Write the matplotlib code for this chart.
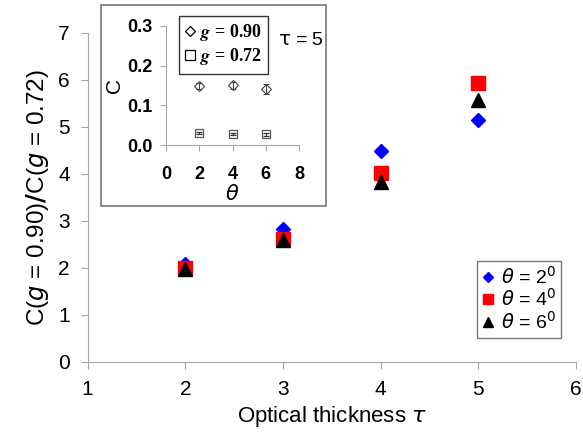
import matplotlib
matplotlib.use('Agg')
import matplotlib.pyplot as plt
from matplotlib.patches import Rectangle
from matplotlib.lines import Line2D
from matplotlib.font_manager import FontProperties

plt.rcParams['font.family'] = ['Liberation Sans', 'DejaVu Sans']

# main plot data: ratio C(g=0.90)/C(g=0.72) vs optical thickness
tau = [2, 3, 4, 5]
ratio_theta2 = [2.08, 2.83, 4.48, 5.14]
ratio_theta4 = [1.99, 2.61, 4.01, 5.94]
ratio_theta6 = [1.98, 2.59, 3.82, 5.56]

# inset data (tau = 5): C vs theta
theta = [2, 4, 6]
c_g090 = [0.149, 0.150, 0.141]
err_g090 = [0.008, 0.008, 0.012]
c_g072 = [0.030, 0.028, 0.027]
err_g072 = [0.003, 0.003, 0.003]

gray = '#a6a6a6'

fig = plt.figure(figsize=(5.83, 4.37), dpi=100)
ax = fig.add_axes([0.1504, 0.1723, 0.8371, 0.7529])

ax.plot(tau, ratio_theta2, 'D', color='#0000ff', ms=7.5, ls='none')
ax.plot(tau, ratio_theta4, 's', color='#ff0000', ms=10.5, ls='none')
ax.plot(tau, ratio_theta6, '^', color='black', ms=10.5, ls='none')

ax.set_xlim(1, 6)
ax.set_ylim(0, 7)
ax.set_xticks(range(1, 7))
ax.set_yticks(range(0, 8))
for s in ['top', 'right']:
    ax.spines[s].set_visible(False)
for s in ['left', 'bottom']:
    ax.spines[s].set_color(gray)
ax.tick_params(direction='out', length=5, color=gray, labelsize=15, pad=8)
ax.set_xlabel(r'Optical thickness $\tau$', fontsize=16, labelpad=4)
ax.set_ylabel(r'C($g$ = 0.90)$\mathbf{/}$C($g$ = 0.72)', fontsize=17.5, labelpad=5)

handles = [
    Line2D([], [], marker='D', color='#0000ff', ls='none', ms=5),
    Line2D([], [], marker='s', color='#ff0000', ls='none', ms=7),
    Line2D([], [], marker='^', color='black', ls='none', ms=7),
]
labels = [r'$\theta$ = 2$^0$', r'$\theta$ = 4$^0$', r'$\theta$ = 6$^0$']
leg = ax.legend(handles, labels, loc='lower left', bbox_to_anchor=(0.818, 0.2265),
                bbox_transform=fig.transFigure, fontsize=14, frameon=True, fancybox=False,
                borderaxespad=0, handlelength=0.6, handletextpad=0.4, borderpad=0.25,
                labelspacing=0.05)
leg.get_frame().set_edgecolor('#555555')
leg.get_frame().set_linewidth(1.0)

# inset frame
fig.patches.append(Rectangle((0.173, 0.529), 0.386, 0.460, transform=fig.transFigure,
                             facecolor='white', edgecolor='#777777', lw=1.2, zorder=1))

ins = fig.add_axes([0.285, 0.668, 0.228, 0.273], zorder=2)
ins.set_facecolor('none')
ins.errorbar(theta, c_g090, yerr=err_g090, fmt='D', mfc='none', mec='#444444',
             ecolor='#444444', ms=5, capsize=2.5, elinewidth=0.8, mew=0.8)
ins.errorbar(theta, c_g072, yerr=err_g072, fmt='s', mfc='none', mec='#555555',
             ecolor='#333333', ms=6, capsize=2, elinewidth=0.8, mew=0.9)
ins.set_xlim(0, 8)
ins.set_ylim(0, 0.3)
ins.set_xticks([0, 2, 4, 6, 8])
ins.set_yticks([0.0, 0.1, 0.2, 0.3])
ins.set_yticklabels(['0.0', '0.1', '0.2', '0.3'])
for s in ['top', 'right']:
    ins.spines[s].set_visible(False)
for s in ['left', 'bottom']:
    ins.spines[s].set_color(gray)
ins.tick_params(direction='out', length=4, color=gray, labelsize=13)
ins.tick_params(axis='x', pad=11)
ins.tick_params(axis='y', pad=6)
for lab in ins.get_xticklabels() + ins.get_yticklabels():
    lab.set_fontweight('bold')
ins.set_xlabel(r'$\theta$', fontsize=15, labelpad=1)
ins.set_ylabel('C', fontsize=15, rotation=90, labelpad=2)

ih = [
    Line2D([], [], marker='D', mfc='white', mec='black', ls='none', ms=5, mew=0.9),
    Line2D([], [], marker='s', mfc='white', mec='black', ls='none', ms=6.5, mew=0.9),
]
ilab = [r'$\mathbfit{g}$ = 0.90', r'$\mathbfit{g}$ = 0.72']
iprop = FontProperties(family='Liberation Serif', weight='bold', size=13, math_fontfamily='stix')
ileg = ins.legend(ih, ilab, loc='upper left', bbox_to_anchor=(0.307, 0.963),
                  bbox_transform=fig.transFigure, prop=iprop, frameon=True, fancybox=False,
                  borderaxespad=0, handlelength=0.5, handletextpad=0.3, borderpad=0.35,
                  labelspacing=0.15)
ileg.get_frame().set_edgecolor('black')
ileg.get_frame().set_linewidth(1.0)

fig.text(0.477, 0.908, r'$\mathrm{\tau}$ = 5', fontsize=14, ha='left', va='center')

fig.savefig('out.png', dpi=100)
